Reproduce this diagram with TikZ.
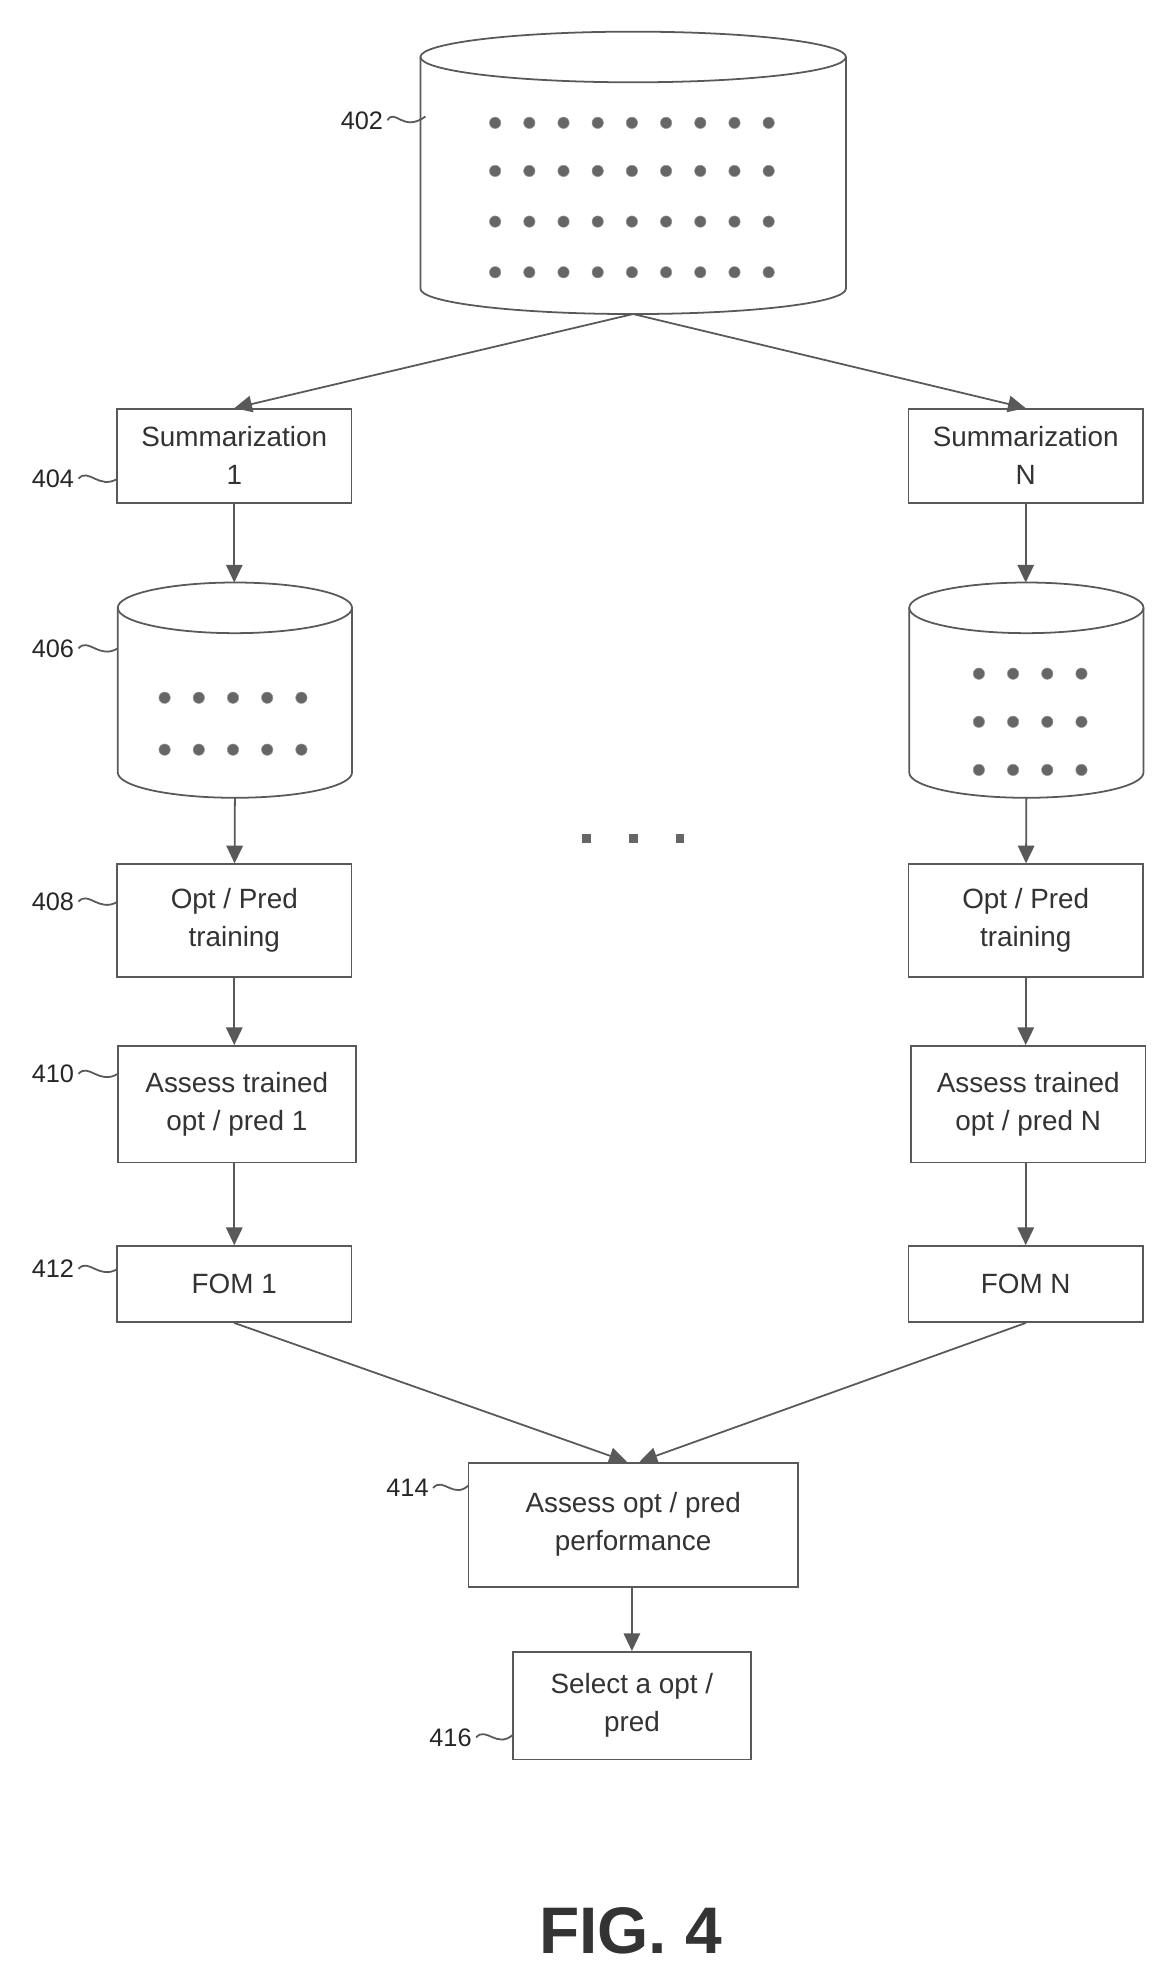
\documentclass[tikz,border=0pt]{standalone}
\usepackage{fontspec}
\setmainfont{Liberation Sans}
\usetikzlibrary{arrows.meta}
\begin{document}
\begin{tikzpicture}[x=1pt,y=-1pt,
 ln/.style={draw=black!65,line width=1.4pt},
 box/.style={ln,fill=white,inner sep=0pt,align=center,font=\fontsize{22}{30}\selectfont,text=black!80},
 arr/.style={ln,-{Triangle[length=14pt,width=13pt]}},
 lab/.style={font=\fontsize{20}{24}\selectfont,text=black!85,anchor=east},
 dot/.style={fill=black!60,draw=black!40,circle,minimum size=9pt,inner sep=0pt}]
\useasboundingbox (0,0) rectangle (921,1562);
\newcommand{\cyl}[5]{% name, x1, x2, ytop, ybot
 \pgfmathsetmacro\cx{(#2+#3)/2}\pgfmathsetmacro\rx{(#3-#2)/2}
 \draw[ln] (#2,#4) -- (#2,#5) arc[start angle=180,end angle=0,x radius=\rx,y radius=20] -- (#3,#4);
 \draw[ln] (\cx,#4) ellipse[x radius=\rx,y radius=20];
 \coordinate (#1) at (\cx,#5+20);}
\cyl{c402}{332}{668}{45}{228}
\foreach \r in {97,135,175,215}{\foreach \i in {0,...,8}{\node[dot] at (391+27*\i,\r){};}}
\node[lab] (l402) at (306,95) {402};
\draw[ln] (l402.east) .. controls (312,85) and (318,105) .. (336,92);
\cyl{c406}{93}{278}{480}{610}
\foreach \r in {551,592}{\foreach \i in {0,...,4}{\node[dot] at (130+27*\i,\r){};}}
\cyl{c406n}{718}{903}{480}{610}
\foreach \r in {532,570,608}{\foreach \i in {0,...,3}{\node[dot] at (773+27*\i,\r){};}}
\foreach \x in {463,500,537}{\node[fill=black!60,minimum size=7pt,inner sep=0pt] at (\x,662){};}
\node[box,minimum width=185pt,minimum height=74pt] (b404) at (185,360) {Summarization\\1};
\node[box,minimum width=185pt,minimum height=74pt] (b404n) at (810,360) {Summarization\\N};
\node[box,minimum width=185pt,minimum height=89pt] (b408) at (185,727) {Opt / Pred\\training};
\node[box,minimum width=185pt,minimum height=89pt] (b408n) at (810,727) {Opt / Pred\\training};
\node[box,minimum width=188pt,minimum height=92pt] (b410) at (187,872) {Assess trained\\opt / pred 1};
\node[box,minimum width=185pt,minimum height=92pt] (b410n) at (812,872) {Assess trained\\opt / pred N};
\node[box,minimum width=185pt,minimum height=60pt] (b412) at (185,1014) {FOM 1};
\node[box,minimum width=185pt,minimum height=60pt] (b412n) at (810,1014) {FOM N};
\node[box,minimum width=260pt,minimum height=98pt] (b414) at (500,1204) {Assess opt / pred\\performance};
\node[box,minimum width=188pt,minimum height=85pt] (b416) at (499,1347) {Select a opt /\\pred};
\draw[arr] (c402) -- (b404.north);
\draw[arr] (c402) -- (b404n.north);
\draw[arr] (b404) -- (185,460);
\draw[arr] (b404n) -- (810,460);
\draw[arr] (c406) -- (b408);
\draw[arr] (c406n) -- (b408n);
\draw[arr] (b408) -- (b408|-b410.north);
\draw[arr] (b408n) -- (b408n|-b410n.north);
\draw[arr] (b410.south-|b412) -- (b412);
\draw[arr] (b410n.south-|b412n) -- (b412n);
\draw[arr] (b412.south) -- ([xshift=-5pt]b414.north);
\draw[arr] (b412n.south) -- ([xshift=5pt]b414.north);
\draw[arr] (b414.south-|b416) -- (b416);
\foreach \n/\y/\t/\xe in {404/378/404/93,406/512/406/93,408/712/408/93,410/848/410/93,412/1002/412/93}{
 \node[lab] (l\n) at (62,\y) {\t};
 \draw[ln] (l\n.east) .. controls (70,\y-9) and (78,\y+9) .. (\xe,\y);}
\node[lab] (l414) at (342,1175) {414};
\draw[ln] (l414.east) .. controls (350,1166) and (358,1184) .. (370,1173);
\node[lab] (l416) at (376,1372) {416};
\draw[ln] (l416.east) .. controls (384,1363) and (392,1381) .. (405,1370);
\node[font=\bfseries\fontsize{52}{60}\selectfont,text=black!80] (fig) at (498,1525) {FIG. 4};
\end{tikzpicture}
\end{document}
